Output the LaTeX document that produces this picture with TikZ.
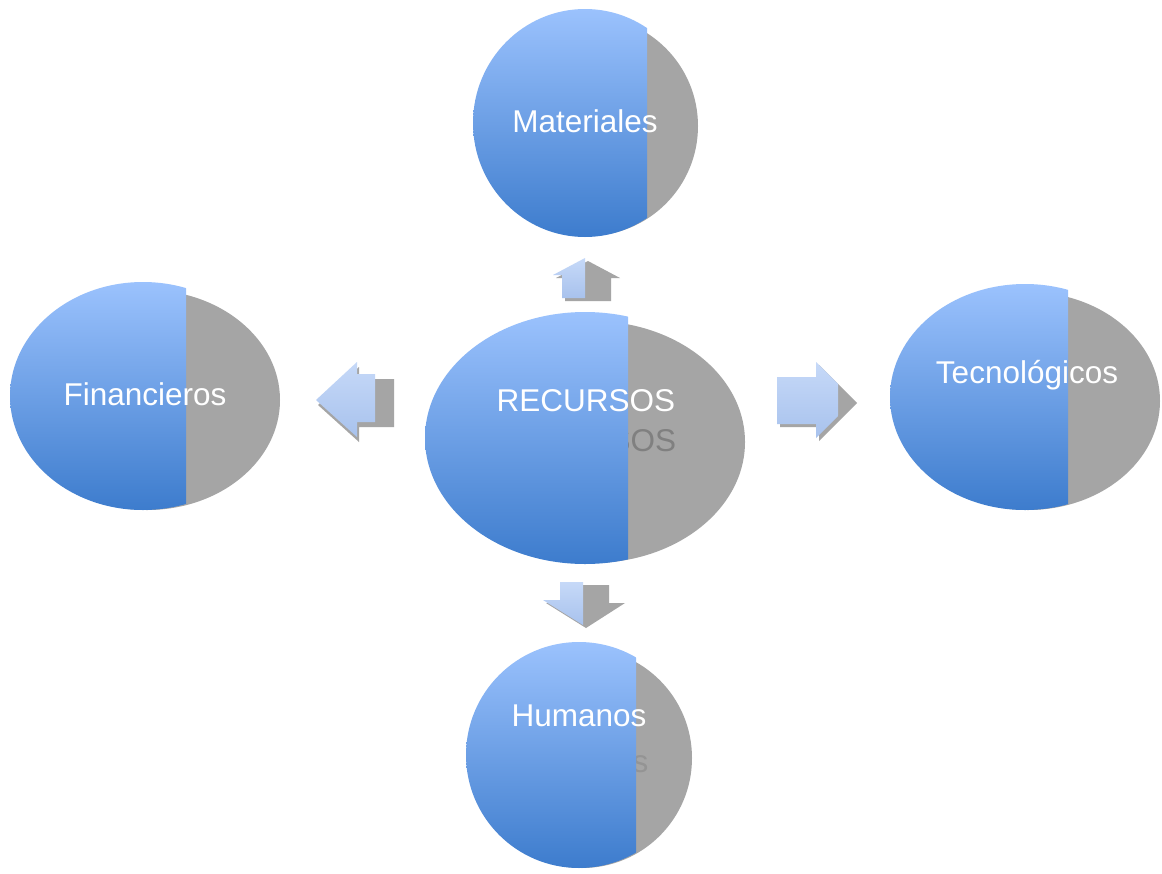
\documentclass[tikz,border=0pt]{standalone}
\usepackage{fontspec}
\setmainfont{Liberation Sans}
\usetikzlibrary{positioning}
\definecolor{recBlueTop}{HTML}{9BC2FD}
\definecolor{recBlueBot}{HTML}{3D7CCD}
\definecolor{recShadow}{HTML}{A5A5A5}
\definecolor{recArrowTop}{HTML}{C6D9F8}
\definecolor{recArrowBot}{HTML}{A8C2ED}
\begin{document}
\begin{tikzpicture}[x=1pt,y=-1pt,line join=round]
\path[fill=white] (0,0) rectangle (1162,873);
\tikzset{disc/.style={top color=recBlueTop,bottom color=recBlueBot},ghost/.style={fill=recShadow},pointer/.style={top color=recArrowTop,bottom color=recArrowBot},lbl/.style={text=white,font=\fontsize{31.5}{36}\selectfont},ghosttext/.style={text=black!50,font=\fontsize{31.5}{36}\selectfont}}
% centre
\fill[ghost] (592,442) ellipse (153 and 121); \node[ghosttext] (recursosGhost) at (587,441) {RECURSOS};
\begin{scope} \clip (0,0) rectangle (628,873); \shade[disc] (585,438) ellipse (160 and 126); \end{scope}
\node[lbl] (recursos) at (586,401) {RECURSOS};
% materiales
\fill[ghost] (588,126) ellipse (110 and 110);
\begin{scope} \clip (0,0) rectangle (647,873); \shade[disc] (585,123) ellipse (112 and 114); \end{scope}
\node[lbl] (materiales) at (585,121) {Materiales};
% financieros
\fill[ghost] (147,400) ellipse (133 and 110);
\begin{scope} \clip (0,0) rectangle (186,873); \shade[disc] (143,396) ellipse (133 and 114); \end{scope}
\node[lbl] (financieros) at (145,394) {Financieros};
% tecnologicos
\fill[ghost] (1028,401) ellipse (132 and 109);
\begin{scope} \clip (0,0) rectangle (1068,873); \shade[disc] (1025,397) ellipse (135 and 113); \end{scope}
\node[lbl] (tecnologicos) at (1027,375) {Tecnológicos};
% humanos
\fill[ghost] (582,758) ellipse (110 and 110); \node[ghosttext,text=black!42] (humanosGhost) at (581,762) {Humanos};
\begin{scope} \clip (0,0) rectangle (636,873); \shade[disc] (579,755) ellipse (113 and 113); \end{scope}
\node[lbl] (humanos) at (579,716) {Humanos};
% arrows
\fill[ghost,shift={(3,3)}] (585,258) -- (617,275) -- (608,275) -- (608,298) -- (562,298) -- (562,275) -- (553,275) -- cycle;
\begin{scope} \clip (0,0) rectangle (585,873); \shade[pointer] (585,258) -- (617,275) -- (608,275) -- (608,298) -- (562,298) -- (562,275) -- (553,275) -- cycle; \end{scope}
\fill[ghost,shift={(3,3)}] (583,625) -- (622,600) -- (606,600) -- (606,582) -- (560,582) -- (560,600) -- (543,600) -- cycle;
\begin{scope} \clip (0,0) rectangle (583,873); \shade[pointer] (583,625) -- (622,600) -- (606,600) -- (606,582) -- (560,582) -- (560,600) -- (543,600) -- cycle; \end{scope}
\fill[ghost,shift={(2,5)}] (316,400) -- (357,362) -- (357,374) -- (392,374) -- (392,422) -- (357,422) -- (357,437) -- cycle;
\begin{scope} \clip (0,0) rectangle (375,873); \shade[pointer] (316,400) -- (357,362) -- (357,374) -- (392,374) -- (392,422) -- (357,422) -- (357,437) -- cycle; \end{scope}
\fill[ghost,shift={(3,3)}] (777,377) -- (816,377) -- (816,362) -- (854,400) -- (816,438) -- (816,424) -- (777,424) -- cycle;
\begin{scope} \clip (0,0) rectangle (838,873); \shade[pointer] (777,377) -- (816,377) -- (816,362) -- (854,400) -- (816,438) -- (816,424) -- (777,424) -- cycle; \end{scope}
\end{tikzpicture}
\end{document}
